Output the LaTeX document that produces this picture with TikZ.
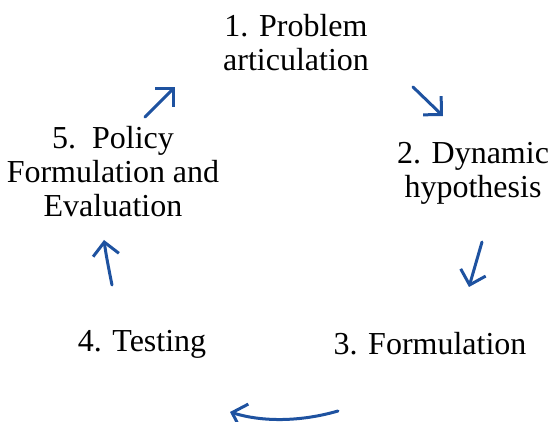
\documentclass[tikz,border=0pt]{standalone}
\usepackage{fontspec}
\setmainfont{Liberation Serif}
\usetikzlibrary{arrows.meta}
\definecolor{cycleblue}{RGB}{30,82,160}

\begin{document}
\begin{tikzpicture}[x=1pt,y=-1pt,
    stage/.style={align=center,inner sep=0pt,font=\fontsize{32}{34}\selectfont},
    cyclearrow/.style={draw=cycleblue,line width=3pt,line cap=round,
      -{Straight Barb[length=13pt,width=26pt,line width=3pt]}}]
    \useasboundingbox (0,0) rectangle (550,422);
    % stages of the cycle
    \node[stage] (problem) at (296,43) {1. Problem\\articulation};
    \node[stage] (dynamic) at (473,173) {2. Dynamic\\hypothesis};
    \node[stage] (formul) at (430,344) {3. Formulation};
    \node[stage] (testing) at (142,344) {4. Testing};
    \node[stage] (policy) at (113,172) {5.\ \ Policy\\Formulation and\\Evaluation};
    % arrow ends
    \coordinate (a1s) at (413,87);  \coordinate (a1e) at (443,116);
    \coordinate (a2s) at (482,242); \coordinate (a2e) at (469,287);
    \coordinate (a3s) at (338,411); \coordinate (a3e) at (230,412);
    \coordinate (a4s) at (112,285); \coordinate (a4e) at (104,240);
    \coordinate (a5s) at (145,117); \coordinate (a5e) at (175,87);
    \draw[cyclearrow] (a1s) -- (a1e);
    \draw[cyclearrow] (a2s) -- (a2e);
    \draw[cyclearrow] (a3s) .. controls (300,422) and (262,422) .. (a3e);
    \draw[cyclearrow] (a4s) .. controls (109,270) and (106,255) .. (a4e);
    \draw[cyclearrow] (a5s) -- (a5e);
\end{tikzpicture}
\end{document}
